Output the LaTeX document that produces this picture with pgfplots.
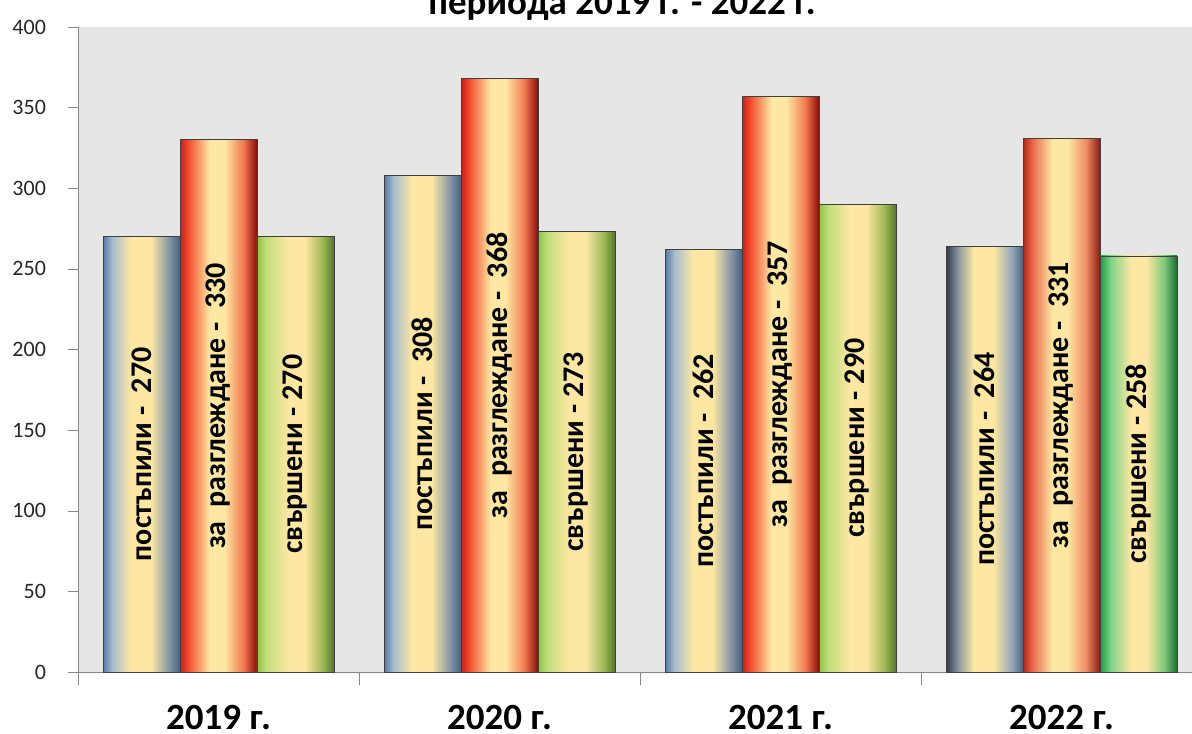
\documentclass[border=0pt]{standalone}
\usepackage{fontspec}
\setmainfont{Carlito}
\usepackage{pgfplots}
\pgfplotsset{compat=1.18}

\definecolor{bggray}{HTML}{E6E6E6}
\definecolor{axgray}{HTML}{868686}
\definecolor{pale}{HTML}{FDE7A2}
% blue bars
\definecolor{bA}{HTML}{56789F}
\definecolor{bB}{HTML}{A6BCD0}
\definecolor{bC}{HTML}{8395A6}
\definecolor{bD}{HTML}{44607F}
% red bars
\definecolor{rA}{HTML}{C92016}
\definecolor{rB}{HTML}{F2482A}
\definecolor{rC}{HTML}{F47A50}
\definecolor{rD}{HTML}{8A0C08}
% green bars
\definecolor{gA}{HTML}{8DC444}
\definecolor{gB}{HTML}{C0DE7A}
\definecolor{gC}{HTML}{98B652}
\definecolor{gD}{HTML}{5A742C}
% 2022 variants
\definecolor{nA}{HTML}{2A3A4E}
\definecolor{nB}{HTML}{8C98A0}
\definecolor{nC}{HTML}{90A4B8}
\definecolor{nD}{HTML}{4A6078}
\definecolor{oA}{HTML}{B52212}
\definecolor{oB}{HTML}{E8684A}
\definecolor{oC}{HTML}{EE8A62}
\definecolor{oD}{HTML}{8A1A10}
\definecolor{eA}{HTML}{1E9A48}
\definecolor{eB}{HTML}{7ED486}
\definecolor{eC}{HTML}{7CC878}
\definecolor{eD}{HTML}{186A30}

\pgfdeclarehorizontalshading{blueshade}{100bp}{
  color(0bp)=(bA); color(25bp)=(bA); color(31bp)=(bB); color(43bp)=(pale);
  color(56bp)=(pale); color(68bp)=(bC); color(75bp)=(bD); color(100bp)=(bD)}
\pgfdeclarehorizontalshading{redshade}{100bp}{
  color(0bp)=(rA); color(25bp)=(rA); color(30bp)=(rB); color(44bp)=(pale);
  color(54bp)=(pale); color(66bp)=(rC); color(75bp)=(rD); color(100bp)=(rD)}
\pgfdeclarehorizontalshading{greenshade}{100bp}{
  color(0bp)=(gA); color(25bp)=(gA); color(31bp)=(gB); color(45bp)=(pale);
  color(56bp)=(pale); color(68bp)=(gC); color(75bp)=(gD); color(100bp)=(gD)}
\pgfdeclarehorizontalshading{navyshade}{100bp}{
  color(0bp)=(nA); color(25bp)=(nA); color(33bp)=(nB); color(43bp)=(pale);
  color(56bp)=(pale); color(68bp)=(nC); color(75bp)=(nD); color(100bp)=(nD)}
\pgfdeclarehorizontalshading{orangeshade}{100bp}{
  color(0bp)=(oA); color(25bp)=(oA); color(31bp)=(oB); color(44bp)=(pale);
  color(54bp)=(pale); color(66bp)=(oC); color(75bp)=(oD); color(100bp)=(oD)}
\pgfdeclarehorizontalshading{vividshade}{100bp}{
  color(0bp)=(eA); color(25bp)=(eA); color(32bp)=(eB); color(45bp)=(pale);
  color(55bp)=(pale); color(67bp)=(eC); color(75bp)=(eD); color(100bp)=(eD)}

% one bar per \addplot so that each bar gets its own shading;
% #1 = bar shift, the label is centred half way up the bar
\pgfplotsset{
  barbase/.style={ybar, bar width=0.274, bar shift=#1, draw=black!75,
    visualization depends on=y \as \rawy,
    every node near coord/.append style={
      shift={(axis direction cs:#1,-\rawy/2)}, rotate=90, anchor=center,
      font=\bfseries\fontsize{15}{16}\selectfont, text=black}},
  inbar/.style={barbase=-0.274, shading=#1,
    nodes near coords={\bfseries постъпили -~~\pgfmathprintnumber{\pgfplotspointmeta}}},
  review/.style={barbase=0, shading=#1,
    nodes near coords={\bfseries за~~разглеждане -~~\pgfmathprintnumber{\pgfplotspointmeta}}},
  done/.style={barbase=0.274, shading=#1,
    nodes near coords={\bfseries свършени - \pgfmathprintnumber{\pgfplotspointmeta}}},
}

\begin{document}
\begin{tikzpicture}
\begin{axis}[
  scale only axis,
  width=562pt,
  height=322.5pt,
  xmin=0.5, xmax=4.5,
  ymin=0, ymax=400,
  axis x line*=bottom,
  axis y line*=left,
  axis line style={draw=axgray, -},
  axis background/.style={fill=bggray},
  xtick={1,2,3,4},
  xticklabels={2019 г.,2020 г.,2021 г.,2022 г.},
  minor xtick={0.5,1.5,2.5,3.5,4.5},
  major x tick style={draw=none},
  minor x tick style={draw=axgray},
  minor tick length=6.5pt,
  ytick={0,50,...,400},
  ytick style={draw=axgray},
  major tick length=5pt,
  tick align=outside,
  /pgf/number format/assume math mode=true,
  yticklabel style={font=\fontsize{11}{12}\selectfont, text=black!85, xshift=-7.5pt},
  xticklabel style={font=\bfseries\fontsize{18.5}{20}\selectfont, yshift=-8pt},
  title={периода 2019 г. - 2022 г.},
  every axis title shift=0pt,
  title style={at={(0.484,1)}, anchor=base, yshift=6pt,
    font=\bfseries\fontsize{18.5}{20}\selectfont},
]
  % 2019
  \addplot[inbar=blueshade] coordinates {(1,270)};
  \addplot[review=redshade] coordinates {(1,330)};
  \addplot[done=greenshade] coordinates {(1,270)};
  % 2020
  \addplot[inbar=blueshade] coordinates {(2,308)};
  \addplot[review=redshade] coordinates {(2,368)};
  \addplot[done=greenshade] coordinates {(2,273)};
  % 2021
  \addplot[inbar=blueshade] coordinates {(3,262)};
  \addplot[review=redshade] coordinates {(3,357)};
  \addplot[done=greenshade] coordinates {(3,290)};
  % 2022
  \addplot[inbar=navyshade] coordinates {(4,264)};
  \addplot[review=orangeshade] coordinates {(4,331)};
  \addplot[done=vividshade] coordinates {(4,258)};
\end{axis}
\pgfresetboundingbox
\useasboundingbox (-39pt,-30.5pt) rectangle (557pt,336pt);
\end{tikzpicture}
\end{document}
